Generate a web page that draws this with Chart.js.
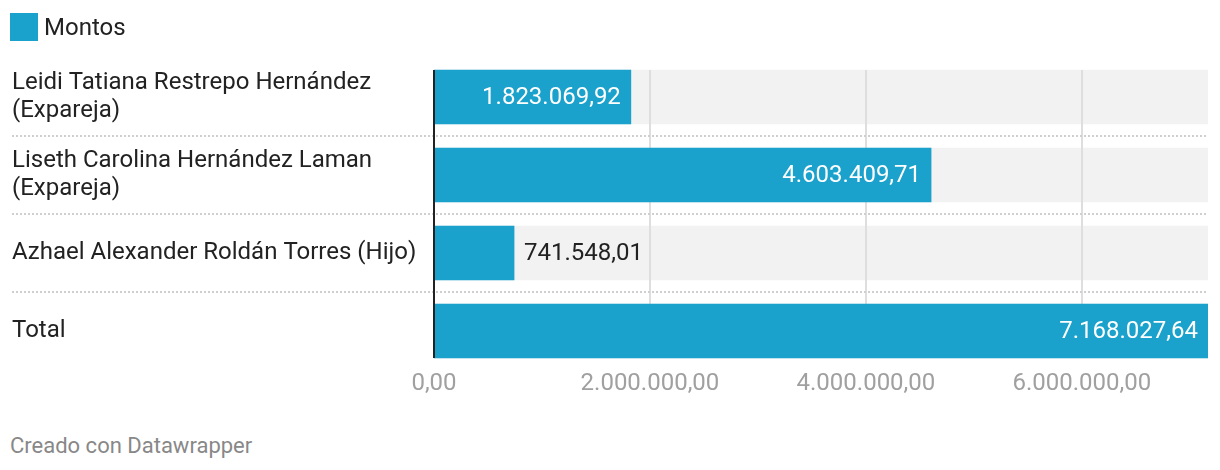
<!DOCTYPE html>
<html lang="es">
<head>
<meta charset="UTF-8">
<title>Montos</title>
<script src="https://cdn.jsdelivr.net/npm/chart.js"></script>
<style>
  body { margin: 0; background: #fff; font-family: Roboto, sans-serif; }
  .wrap { position: relative; width: 1220px; height: 470px; }
  .legend { position: absolute; left: 10px; top: 13px; height: 28px; display: flex; align-items: center; font-size: 24px; color: #222; }
  .legend .box { width: 28px; height: 28px; background: #1aa1cc; margin-right: 6px; }
  #chart { position: absolute; left: 0; top: 0; }
  .footer { position: absolute; left: 10px; top: 433px; font-size: 22px; color: #888; }
</style>
</head>
<body>
<div class="wrap">
  <canvas id="chart" width="1220" height="420"></canvas>
  <div class="legend"><span class="box"></span>Montos</div>
  <div class="footer">Creado con Datawrapper</div>
</div>

<script>
// data
const categories = [
  ['Leidi Tatiana Restrepo Hernández', '(Expareja)'],
  ['Liseth Carolina Hernández Laman', '(Expareja)'],
  'Azhael Alexander Roldán Torres (Hijo)',
  'Total'
];
const montos = [1823069.92, 4603409.71, 741548.01, 7168027.64];
const xTicks = [0, 2000000, 4000000, 6000000];
const xMax = 7168027.64;

const blue = '#1aa1cc';

// 1.234.567,89
function fmt(v) {
  const parts = Math.abs(v).toFixed(2).split('.');
  return parts[0].replace(/\B(?=(\d{3})+(?!\d))/g, '.') + ',' + parts[1];
}

const decor = {
  id: 'decor',
  afterDatasetDraw(chart, args) {
    if (args.index !== 1) return;
    // gridlines go over the grey tracks but under the blue bars
    const ctx = chart.ctx;
    const x = chart.scales.x;
    const bars = chart.getDatasetMeta(0).data;
    const top = bars[0].y - bars[0].height / 2;
    const last = bars[bars.length - 1];
    const bottom = last.y + last.height / 2;
    ctx.save();
    ctx.strokeStyle = '#dedede';
    ctx.lineWidth = 2;
    xTicks.slice(1).forEach(v => {
      const px = Math.round(x.getPixelForValue(v));
      ctx.beginPath();
      ctx.moveTo(px, top);
      ctx.lineTo(px, bottom);
      ctx.stroke();
    });
    ctx.restore();
  },
  afterDatasetsDraw(chart) {
    const ctx = chart.ctx;
    const x = chart.scales.x;
    const bars = chart.getDatasetMeta(0).data;
    const top = bars[0].y - bars[0].height / 2;
    const last = bars[bars.length - 1];
    const bottom = last.y + last.height / 2;
    ctx.save();

    // dotted row separators
    ctx.strokeStyle = '#cfcfcf';
    ctx.lineWidth = 2;
    ctx.setLineDash([2, 2]);
    for (let i = 0; i < bars.length - 1; i++) {
      const y = Math.round((bars[i].y + bars[i + 1].y) / 2);
      ctx.beginPath();
      ctx.moveTo(12, y);
      ctx.lineTo(chart.chartArea.right, y);
      ctx.stroke();
    }
    ctx.setLineDash([]);

    // zero line
    const x0 = Math.round(x.getPixelForValue(0));
    ctx.strokeStyle = '#222';
    ctx.lineWidth = 2;
    ctx.beginPath();
    ctx.moveTo(x0, top);
    ctx.lineTo(x0, bottom);
    ctx.stroke();

    // value labels
    ctx.font = '24px Roboto';
    ctx.textBaseline = 'middle';
    bars.forEach((bar, i) => {
      const txt = fmt(montos[i]);
      const w = ctx.measureText(txt).width;
      const barW = bar.x - bar.base;
      if (w + 20 < barW) {
        ctx.fillStyle = '#fff';
        ctx.textAlign = 'right';
        ctx.fillText(txt, bar.x - 10, bar.y + 1);
      } else {
        ctx.fillStyle = '#222';
        ctx.textAlign = 'left';
        ctx.fillText(txt, bar.x + 10, bar.y + 1);
      }
    });
    ctx.restore();
  }
};

new Chart(document.getElementById('chart'), {
  type: 'bar',
  data: {
    labels: categories,
    datasets: [
      {
        label: 'Montos',
        data: montos,
        backgroundColor: blue,
        barThickness: 54,
        grouped: false
      },
      {
        label: 'track',
        data: montos.map(() => xMax),
        backgroundColor: '#f2f2f2',
        barThickness: 54,
        grouped: false
      }
    ]
  },
  options: {
    indexAxis: 'y',
    responsive: false,
    animation: false,
    layout: { padding: { left: 12, right: 12, top: 58, bottom: 0 } },
    plugins: {
      legend: { display: false },
      tooltip: { enabled: false }
    },
    scales: {
      x: {
        min: 0,
        max: xMax,
        afterFit: s => { s.height = 50; },
        afterBuildTicks: s => { s.ticks = xTicks.map(v => ({ value: v })); },
        grid: { display: false, drawTicks: false },
        border: { display: false },
        ticks: {
          autoSkip: false,
          maxRotation: 0,
          padding: 0,
          color: '#a0a0a0',
          font: { family: 'Roboto', size: 24 },
          callback: v => fmt(v)
        }
      },
      y: {
        afterFit: s => { s.width = 422; },
        grid: { display: false, drawTicks: false },
        border: { display: false },
        ticks: {
          crossAlign: 'far',
          padding: 0,
          color: '#222',
          font: { family: 'Roboto', size: 24, lineHeight: 1.2 }
        }
      }
    }
  },
  plugins: [decor]
});
</script>
</body>
</html>
